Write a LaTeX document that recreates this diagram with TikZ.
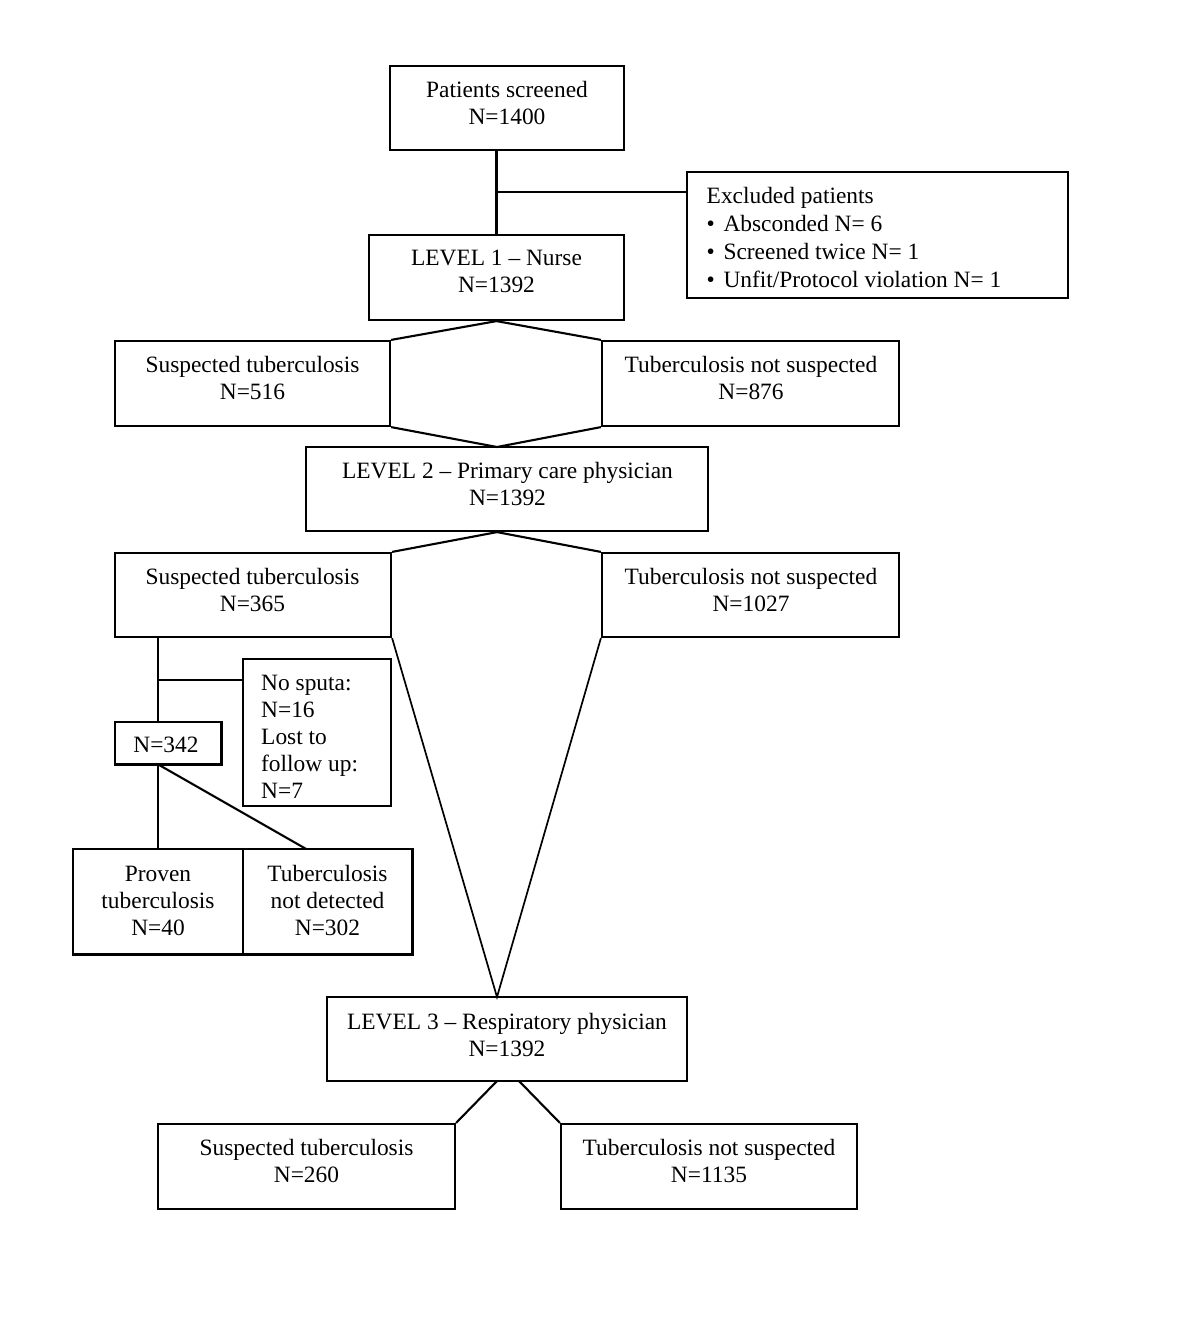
\documentclass[tikz,border=0pt]{standalone}
\usepackage{fontspec}
\setmainfont{Liberation Serif}
\begin{document}
\begin{tikzpicture}[x=1pt,y=-1pt,
  box/.style={draw, line width=2.2pt, inner sep=0pt},
  txt/.style={font=\fontsize{23.4}{27}\selectfont, align=center, inner sep=0pt},
  ltxt/.style={font=\fontsize{23.4}{27}\selectfont, align=left, inner sep=0pt, anchor=west},
  conn/.style={line width=2.1pt},
  longconn/.style={line width=1.7pt}]
\useasboundingbox (0,0) rectangle (1200,1334);

% boxes
\node[box, minimum width=234pt, minimum height=84pt] (ps) at (507,108) {};
\node[box, minimum width=381pt, minimum height=126pt] (ex) at (877.5,235) {};
\node[box, minimum width=255pt, minimum height=85pt] (l1) at (496.5,277.5) {};
\node[box, minimum width=275pt, minimum height=85pt] (s1) at (252.5,383.5) {};
\node[box, minimum width=297pt, minimum height=85pt] (n1) at (750.5,383.5) {};
\node[box, minimum width=402pt, minimum height=84pt] (l2) at (507,489) {};
\node[box, minimum width=276pt, minimum height=84pt] (s2) at (253,595) {};
\node[box, minimum width=297pt, minimum height=84pt] (n2) at (750.5,595) {};
\node[box, minimum width=148pt, minimum height=147pt] (ns) at (317,732.5) {};
\node[box, minimum width=106.5pt, minimum height=42.5pt] (b342) at (168.25,743.25) {};
\node[box, minimum width=170pt, minimum height=105.5pt] (pr) at (158,901.75) {};
\node[box, minimum width=169.5pt, minimum height=105.5pt] (nd) at (327.75,901.75) {};
\node[box, minimum width=360pt, minimum height=84pt] (l3) at (507,1039) {};
\node[box, minimum width=297pt, minimum height=85pt] (s3) at (306.5,1166.5) {};
\node[box, minimum width=296pt, minimum height=85pt] (n3) at (709,1166.5) {};

% texts
\node[txt] (pst) at (507,102.5) {Patients screened\\N=1400};
\node[ltxt, font=\fontsize{23.4}{28.3}\selectfont] (ext) at (706.5,237.5) {Excluded patients\\•\hspace{0.37em}Absconded N= 6\\•\hspace{0.37em}Screened twice N= 1\\•\hspace{0.37em}Unfit/Protocol violation N= 1};
\node[txt] (l1t) at (496.5,271.5) {LEVEL 1 \textendash{} Nurse\\N=1392};
\node[txt] (s1t) at (252.5,377.5) {Suspected tuberculosis\\N=516};
\node[txt] (n1t) at (751,377.5) {Tuberculosis not suspected\\N=876};
\node[txt] (l2t) at (507.5,483.5) {LEVEL 2 \textendash{} Primary care physician\\N=1392};
\node[txt] (s2t) at (252.5,589.5) {Suspected tuberculosis\\N=365};
\node[txt] (n2t) at (751,589.5) {Tuberculosis not suspected\\N=1027};
\node[ltxt] (nst) at (261,736.5) {No sputa:\\N=16\\Lost to\\follow up:\\N=7};
\node[txt] (b342t) at (166,744.5) {N=342};
\node[txt] (prt) at (158,900.5) {Proven\\tuberculosis\\N=40};
\node[txt] (ndt) at (327.5,900.5) {Tuberculosis\\not detected\\N=302};
\node[txt] (l3t) at (507,1034.5) {LEVEL 3 \textendash{} Respiratory physician\\N=1392};
\node[txt] (s3t) at (306.5,1160.5) {Suspected tuberculosis\\N=260};
\node[txt] (n3t) at (709,1160.5) {Tuberculosis not suspected\\N=1135};

% junction coordinates
\coordinate (j1) at (497,192);
\coordinate (ap2) at (497,447);
\coordinate (ap3) at (497,997);
\coordinate (v2t) at (158.3,637);
\coordinate (j2) at (158.3,680);
\coordinate (v3t) at (158.3,764.5);
\coordinate (d3) at (306.7,849.3);
\coordinate (c3a) at (497,1081);
\coordinate (c3b) at (519,1081);

% connectors
\draw[conn] (l1.south |- ps.south) -- (l1.north);
\draw[conn] (j1) -- (j1 -| ex.west);
\draw[conn] (s1.north east) -- (l1.south) -- (n1.north west);
\draw[conn] (s1.south east) -- (ap2) -- (n1.south west);
\draw[conn] (s2.north east) -- (l2.south -| ap2) -- (n2.north west);
\draw[longconn] (s2.south east) -- (ap3) -- (n2.south west);
\draw[conn] (v2t) -- (v2t |- b342.north);
\draw[conn] (j2) -- (j2 -| ns.west);
\draw[conn] (v3t) -- (v3t |- pr.north);
\draw[conn] (v3t) -- (d3);
\draw[conn] (c3a) -- (s3.north east);
\draw[conn] (c3b) -- (n3.north west);
\end{tikzpicture}
\end{document}
